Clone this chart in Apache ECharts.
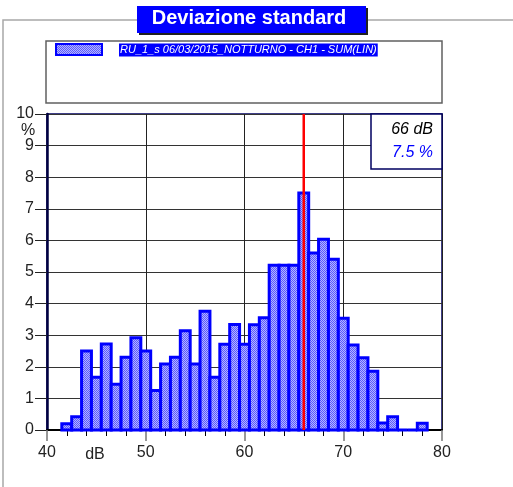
<!DOCTYPE html>
<html>
<head>
<meta charset="utf-8">
<script src="https://cdn.jsdelivr.net/npm/echarts@6/dist/echarts.min.js"></script>
<style>
  html, body { margin: 0; padding: 0; background: #fff; }
  #chart { width: 513px; height: 487px; }
</style>
</head>
<body>
<div id="chart"></div>
<script>
// bin centres (dB) and share of time (%)
var levels = [42, 43, 44, 45, 46, 47, 48, 49, 50, 51, 52, 53, 54, 55, 56, 57, 58, 59, 60,
  61, 62, 63, 64, 65, 66, 67, 68, 69, 70, 71, 72, 73, 74, 75, 76, 77, 78]
var percents = [0.2, 0.42, 2.5, 1.67, 2.72, 1.45, 2.3, 2.92, 2.5, 1.25, 2.09, 2.3, 3.14, 2.09, 3.76, 1.67, 2.71, 3.34, 2.71,
  3.33, 3.55, 5.21, 5.21, 5.21, 7.5, 5.6, 6.04, 5.4, 3.54, 2.69, 2.29, 1.86, 0.22, 0.42, 0, 0, 0.21]
var xTicks = [40, 50, 60, 70, 80]
var yTicks = [0, 1, 2, 3, 4, 5, 6, 7, 8, 9, 10]
var peakDb = 66
var peakPct = 7.5
var titleText = 'Deviazione standard'
var seriesName = 'RU_1_s 06/03/2015_NOTTURNO - CH1 - SUM(LIN)'

var font = 'Liberation Sans, Arial, sans-serif'

// dithered blue fill like the original hatch
function makePattern () {
  var c = document.createElement('canvas')
  c.width = 2
  c.height = 2
  var ctx = c.getContext('2d')
  ctx.fillStyle = '#b4b4ff'
  ctx.fillRect(0, 0, 2, 2)
  ctx.fillStyle = '#5a5aff'
  ctx.fillRect(0, 0, 1, 1)
  ctx.fillRect(1, 1, 1, 1)
  return c
}
var pattern = { image: makePattern(), repeat: 'repeat' }

var chart = echarts.init(document.getElementById('chart'))

var option = {
  animation: false,
  grid: {
    left: 47,
    top: 114,
    right: 71,
    bottom: 57,
    show: true,
    borderColor: '#000060',
    borderWidth: 1.5
  },
  xAxis: {
    type: 'value',
    min: xTicks[0],
    max: xTicks[xTicks.length - 1],
    interval: 10,
    axisLine: { show: true, onZero: false, lineStyle: { color: '#000', width: 2 } },
    axisTick: { show: true, length: 11, lineStyle: { color: '#777', width: 1.5 } },
    minorTick: { show: true, splitNumber: 5, length: 6, lineStyle: { color: '#000', width: 1 } },
    axisLabel: { margin: 15, fontSize: 16, color: '#222', fontFamily: font },
    splitLine: { show: true, lineStyle: { color: '#222', width: 1 } }
  },
  yAxis: {
    type: 'value',
    min: yTicks[0],
    max: yTicks[yTicks.length - 1],
    interval: 1,
    axisLine: { show: true, lineStyle: { color: '#000040', width: 2.5 } },
    axisTick: { show: true, length: 12, lineStyle: { color: '#222', width: 1 } },
    axisLabel: { margin: 13, fontSize: 16, color: '#222', fontFamily: font },
    splitLine: { show: true, lineStyle: { color: '#333', width: 1 } }
  },
  series: [
    {
      type: 'custom',
      name: seriesName,
      data: levels.map(function (l, i) { return [l, percents[i]] }),
      renderItem: function (params, api) {
        var x = api.value(0)
        var y = api.value(1)
        var p0 = api.coord([x - 0.5, y])
        var p1 = api.coord([x + 0.5, 0])
        return {
          type: 'rect',
          shape: { x: p0[0], y: p0[1], width: p1[0] - p0[0], height: p1[1] - p0[1] },
          style: { fill: pattern, stroke: '#0000ff', lineWidth: 3 }
        }
      },
      z: 3
    },
    {
      type: 'line',
      data: [[peakDb, 0], [peakDb, 10]],
      symbol: 'none',
      lineStyle: { color: '#ff0000', width: 2.5 },
      z: 4
    }
  ],
  graphic: [
    // outer frame
    { type: 'rect', shape: { x: 3, y: 20, width: 530, height: 500 }, style: { fill: 'none', stroke: '#a8a8a8', lineWidth: 1.5 }, z: 1 },
    // title
    { type: 'rect', shape: { x: 139, y: 8, width: 229, height: 27 }, style: { fill: '#202020' }, z: 10 },
    { type: 'rect', shape: { x: 137, y: 6, width: 229, height: 27 }, style: { fill: '#0000ff' }, z: 11 },
    { type: 'text', x: 249, y: 18, style: { text: titleText, fill: '#fff', font: 'bold 20px ' + font, align: 'center', verticalAlign: 'middle' }, z: 12 },
    // legend box
    { type: 'rect', shape: { x: 46, y: 41, width: 396, height: 62 }, style: { fill: '#fff', stroke: '#606060', lineWidth: 1.5 }, z: 10 },
    { type: 'rect', shape: { x: 56, y: 44, width: 46, height: 11 }, style: { fill: pattern, stroke: '#0000ff', lineWidth: 2 }, z: 11 },
    { type: 'text', x: 119, y: 50, style: { text: seriesName, fill: '#fff', font: 'italic 11px ' + font, verticalAlign: 'middle', backgroundColor: '#0000ff', padding: [1, 1, 1, 1] }, z: 11 },
    // peak readout
    { type: 'rect', shape: { x: 371, y: 114, width: 71, height: 55 }, style: { fill: '#fff', stroke: '#000060', lineWidth: 1.5 }, z: 10 },
    { type: 'text', x: 433, y: 130, style: { text: peakDb + ' dB', fill: '#000', font: 'italic 16px ' + font, align: 'right', verticalAlign: 'middle' }, z: 11 },
    { type: 'text', x: 433, y: 153, style: { text: peakPct + ' %', fill: '#0000ff', font: 'italic 16px ' + font, align: 'right', verticalAlign: 'middle' }, z: 11 },
    // axis unit labels
    { type: 'text', x: 28, y: 131, style: { text: '%', fill: '#222', font: '16px ' + font, align: 'center', verticalAlign: 'middle' }, z: 11 },
    { type: 'text', x: 95, y: 455, style: { text: 'dB', fill: '#222', font: '16px ' + font, align: 'center', verticalAlign: 'middle' }, z: 11 }
  ]
}

chart.setOption(option)
</script>
</body>
</html>
